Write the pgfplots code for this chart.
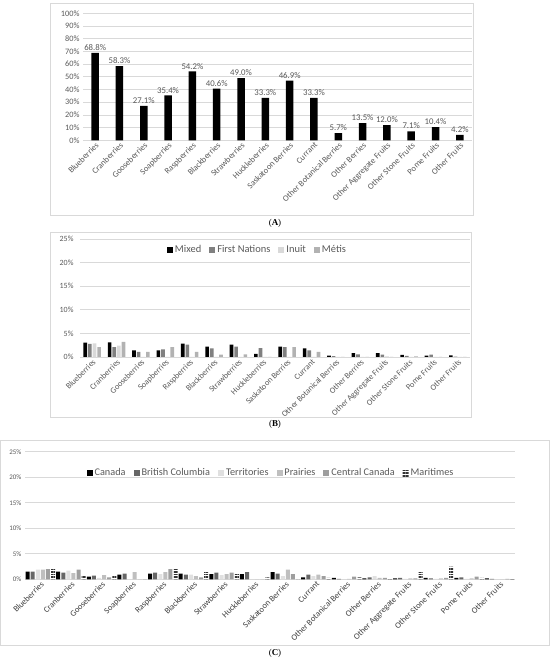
\documentclass[border=0pt]{standalone}
\usepackage{pgfplots}
\usepackage{pgfplotstable}
\pgfplotsset{compat=1.18}
\usetikzlibrary{patterns,patterns.meta}
\usepackage{fontspec}
\setmainfont{Carlito}
\newfontfamily\capfont{Liberation Serif}
\definecolor{tickgray}{HTML}{595959}
\definecolor{gridgray}{HTML}{D9D9D9}
\definecolor{framegray}{HTML}{D9D9D9}

\pgfplotstableread{
x Mixed FN Inuit Metis
0 3.07 2.80 2.90 2.10
1 3.10 2.10 2.40 3.20
2 1.40 1.10 0 1.10
3 1.40 1.60 0 2.10
4 2.85 2.60 0 1.10
5 2.20 1.80 0 0.50
6 2.60 2.20 0 0.55
7 0.65 1.90 0 0
8 2.20 2.10 0 2.10
9 1.85 1.40 0 1.10
10 0.30 0.20 0 0
11 0.80 0.55 0 0
12 0.80 0.50 0.15 0
13 0.45 0.25 0 0.15
14 0.30 0.50 0 0
15 0.35 0.10 0 0
}\tblB

\pgfplotstableread{
x Can BC Terr Prai Cent Mar
0 1.5 1.5 1.9 1.9 2.0 2.0
1 1.5 1.3 1.7 1.2 1.9 0.7
2 0.5 0.7 0.3 0.8 0.4 0.6
3 0.9 1.1 0 1.4 0 0
4 1.1 1.3 1.0 1.4 2.0 2.0
5 1.1 0.9 0.9 0.6 0.4 1.4
6 1.0 1.3 0.8 1.0 1.3 1.0
7 1.0 1.4 0 0 0 0.4
8 1.4 1.1 0.6 1.9 1.0 0
9 0.4 0.9 0.6 0.9 0.6 0.3
10 0.3 0.1 0 0.1 0.5 0.4
11 0.2 0.4 0.6 0.3 0.3 0.1
12 0.2 0.3 0.1 0.2 0.2 1.4
13 0.3 0.2 0.1 0.2 0.3 2.5
14 0.3 0.4 0.1 0.2 0.5 0.3
15 0.2 0.1 0 0 0.1 0.2
}\tblC

\pgfplotsset{
  mybase/.style={
    scale only axis, anchor=south west,
    xmin=-0.5, xmax=15.5, xtick={0,...,15},
    xticklabels={Blueberries,Cranberries,Gooseberries,Soapberries,Raspberries,Blackberries,Strawberries,Huckleberries,Saskatoon Berries,Currant,Other Botanical Berries,Other Berries,Other Aggregate Fruits,Other Stone Fruits,Pome Fruits,Other Fruits},
    x tick label style={rotate=45, anchor=north east, inner sep=1bp, text=tickgray},
    ymin=0,
    yticklabel={\pgfmathprintnumber{\tick}\%},
    /pgf/number format/assume math mode=true,
    y tick label style={text=tickgray},
    ymajorgrids, grid style={draw=gridgray, line width=0.6pt},
    axis x line*=bottom, axis y line*=left,
    x axis line style={draw=gridgray, line width=0.6pt, -},
    y axis line style={draw=none},
    major tick length=0pt,
    clip=false,
  }
}

\begin{document}
\begin{tikzpicture}[x=1bp,y=1bp]
\path[use as bounding box] (0,0) rectangle (550,664);
% frames
\draw[framegray, line width=0.5pt] (50,449) rectangle (473,661);
\draw[framegray, line width=0.5pt] (50,247) rectangle (471,432);
\draw[framegray, line width=0.5pt] (0.5,19) rectangle (549.5,224);

% Panel A
\begin{axis}[mybase,
  at={(83bp,523.7bp)}, width=389bp, height=127bp,
  ymax=100, ytick={0,10,...,100},
  ybar, bar width=7.5bp,
  x tick label style={font=\fontsize{8.5}{9}\selectfont},
  y tick label style={font=\fontsize{8.3}{9}\selectfont},
  nodes near coords={\pgfmathprintnumber[fixed,fixed zerofill,precision=1]{\pgfplotspointmeta}\%},
  nodes near coords style={font=\fontsize{8.8}{9}\selectfont, text=tickgray, inner sep=2bp},
]
\addplot[fill=black, draw=none] coordinates {
(0,68.8) (1,58.3) (2,27.1) (3,35.4) (4,54.2) (5,40.6) (6,49.0) (7,33.3)
(8,46.9) (9,33.3) (10,5.7) (11,13.5) (12,12.0) (13,7.1) (14,10.4) (15,4.2)};
\end{axis}

% Panel B
\begin{axis}[mybase,
  at={(80bp,307bp)}, width=390bp, height=118bp,
  ymax=25, ytick={0,5,...,25},
  ybar=1bp, bar width=3.6bp,
  x tick label style={font=\fontsize{8.3}{9}\selectfont},
  y tick label style={font=\fontsize{8}{9}\selectfont, xshift=-3bp},
  legend style={at={(0.455,0.907)}, anchor=center, draw=none, fill=none,
    legend columns=-1, font=\fontsize{10.5}{12}\selectfont, text=tickgray,
    /tikz/every even column/.append style={column sep=6bp}},
  legend image code/.code={\fill[#1] (0bp,-3bp) rectangle (6bp,3bp);},
]
\addplot[fill=black, draw=none] table[x=x,y=Mixed] {\tblB};
\addplot[fill=black!50, draw=none] table[x=x,y=FN] {\tblB};
\addplot[fill=black!15, draw=none] table[x=x,y=Inuit] {\tblB};
\addplot[fill=black!30, draw=none] table[x=x,y=Metis] {\tblB};
\legend{Mixed, First Nations, Inuit, Métis}
\end{axis}

% Panel C
\begin{axis}[mybase,
  at={(25bp,84.7bp)}, width=490bp, height=127.6bp,
  ymax=25, ytick={0,5,...,25},
  ybar=1.1bp, bar width=4bp,
  x tick label style={font=\fontsize{8.5}{9}\selectfont, text=black!75},
  y tick label style={font=\fontsize{7}{8}\selectfont},
  legend style={at={(0.502,0.833)}, anchor=center, draw=none, fill=none,
    legend columns=-1, font=\fontsize{10.3}{12}\selectfont, text=tickgray,
    /tikz/every even column/.append style={column sep=6bp}},
  legend image code/.code={\path[#1] (0bp,-3bp) rectangle (6bp,3bp);},
]
\addplot[fill=black, draw=none] table[x=x,y=Can] {\tblC};
\addplot[fill=black!60, draw=none] table[x=x,y=BC] {\tblC};
\addplot[fill=black!12, draw=none] table[x=x,y=Terr] {\tblC};
\addplot[fill=black!25, draw=none] table[x=x,y=Prai] {\tblC};
\addplot[fill=black!38, draw=none] table[x=x,y=Cent] {\tblC};
\addplot[pattern={Lines[angle=0, distance=1.6bp, line width=0.8bp]}, pattern color=black!80, draw=none] table[x=x,y=Mar] {\tblC};
\legend{Canada, British Columbia, Territories, Prairies, Central Canada, Maritimes}
\end{axis}

% captions
\node[font=\capfont\fontsize{9}{10}\selectfont] at (275,441) {(\textbf{A})};
\node[font=\capfont\fontsize{9}{10}\selectfont] at (275,240) {(\textbf{B})};
\node[font=\capfont\fontsize{9}{10}\selectfont] at (275,11) {(\textbf{C})};
\end{tikzpicture}
\end{document}
